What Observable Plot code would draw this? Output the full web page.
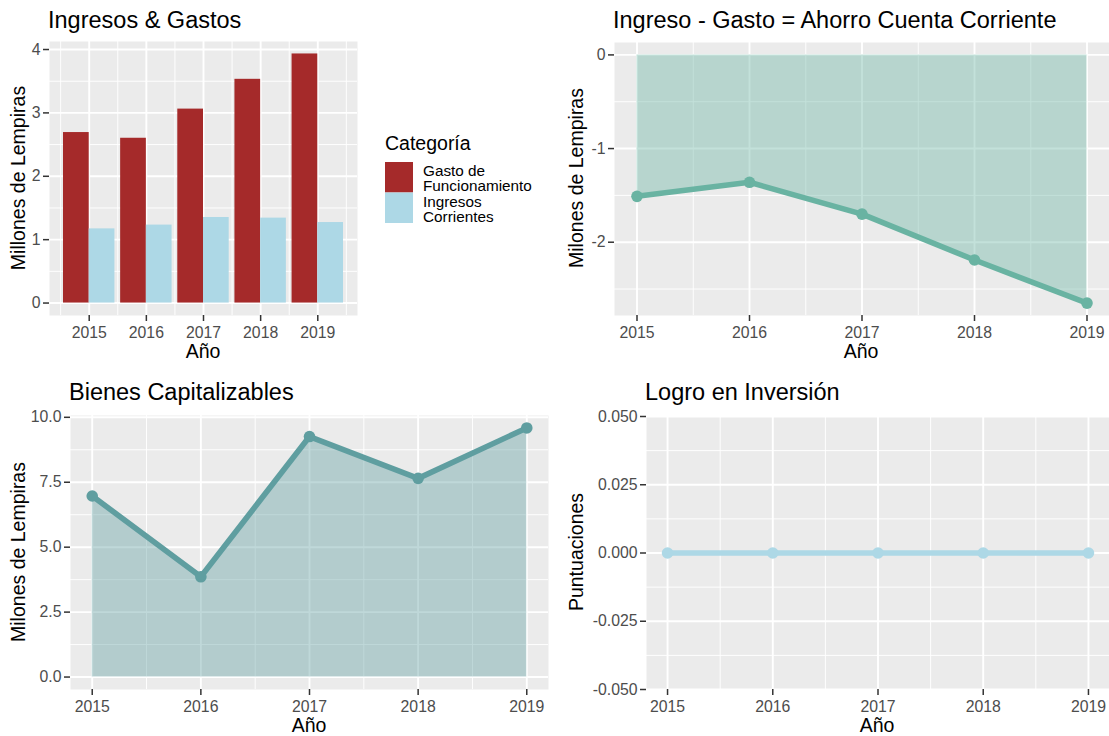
<!DOCTYPE html>
<html><head><meta charset="utf-8">
<script src="https://cdn.jsdelivr.net/npm/d3@7"></script>
<script src="https://cdn.jsdelivr.net/npm/@observablehq/plot@0.6"></script>
<style>
body{margin:0;background:#fff;}
#root{position:relative;width:1109px;height:736px;overflow:hidden;background:#fff;}
</style></head><body><div id="root"></div>
<script>
// ---- data ----
const years = [2015, 2016, 2017, 2018, 2019];
const categorias = ["Gasto de Funcionamiento", "Ingresos Corrientes"];
const coloresCategorias = ["#A52A2A", "#ADD8E6"];
const gastoFuncionamiento = [2.69, 2.60, 3.06, 3.53, 3.93];
const ingresosCorrientes = [1.17, 1.23, 1.35, 1.34, 1.27];
const ahorroCuentaCorriente = [-1.51, -1.36, -1.70, -2.19, -2.65];
const bienesCapitalizables = [6.97, 3.86, 9.26, 7.65, 9.59];
const logroInversion = [0, 0, 0, 0, 0];
const ticksIngresos = [0, 1, 2, 3, 4];
const minorIngresos = [0.5, 1.5, 2.5, 3.5];
const ticksAhorro = [-2, -1, 0];
const minorAhorro = [-2.5, -1.5, -0.5];
const ticksBienes = [0, 2.5, 5, 7.5, 10];
const minorBienes = [1.25, 3.75, 6.25, 8.75];
const ticksLogro = [-0.05, -0.025, 0, 0.025, 0.05];
const minorLogro = [-0.0375, -0.0125, 0.0125, 0.0375];
const minorYearsBars = [2014.5, 2015.5, 2016.5, 2017.5, 2018.5, 2019.5];
const minorYears = [2015.5, 2016.5, 2017.5, 2018.5];

// ---- helpers ----
const FONT = '"Liberation Sans", Arial, Helvetica, sans-serif';
const TICK = 15.8;
const root = document.getElementById("root");
function place(node, left, top) {
  node.style.position = "absolute";
  node.style.left = left + "px";
  node.style.top = top + "px";
  root.appendChild(node);
}
function expand(lo, hi, m = 0.05) { const r = hi - lo; return [lo - r * m, hi + r * m]; }

function panel({width, height, ml, mr, mt, mb, xDomain, yDomain, xMinor, yMajor, yMinor, yFormat, marks}) {
  const gridW = {stroke: "#FFFFFF", strokeOpacity: 1};
  return Plot.plot({
    width, height, marginLeft: ml, marginRight: mr, marginTop: mt, marginBottom: mb,
    x: {type: "linear", domain: xDomain},
    y: {type: "linear", domain: yDomain},
    color: {domain: categorias, range: coloresCategorias},
    style: {background: "transparent", fontFamily: FONT, fontSize: TICK + "px", color: "#4D4D4D", overflow: "visible"},
    marks: [
      Plot.frame({fill: "#EBEBEB", stroke: "none"}),
      Plot.gridX(xMinor, {...gridW, strokeWidth: 0.95}),
      Plot.gridY(yMinor, {...gridW, strokeWidth: 0.95}),
      Plot.gridX(years, {...gridW, strokeWidth: 1.9}),
      Plot.gridY(yMajor, {...gridW, strokeWidth: 1.9}),
      ...marks,
      Plot.axisX(years, {anchor: "bottom", tickSize: 6, tickPadding: 5.5, strokeWidth: 1.5, stroke: "#333333", color: "#4D4D4D", fontSize: TICK, tickFormat: d => String(d), label: null}),
      Plot.axisY(yMajor, {anchor: "left", tickSize: 6, tickPadding: 3, strokeWidth: 1.5, stroke: "#333333", color: "#4D4D4D", fontSize: TICK, tickFormat: yFormat, label: null})
    ]
  });
}

const LW = 5.6;
const R = 5.8;

// ---- panel 1: bars ----
const barWidth = 0.9;
const barras = [];
years.forEach((y, i) => {
  barras.push({year: y, categoria: categorias[0], idx: 0, valor: gastoFuncionamiento[i]});
  barras.push({year: y, categoria: categorias[1], idx: 1, valor: ingresosCorrientes[i]});
});
const p1 = panel({
  width: 370, height: 368, ml: 49, mr: 13, mt: 41, mb: 53,
  xDomain: expand(years[0] - barWidth / 2, years[years.length - 1] + barWidth / 2),
  yDomain: expand(0, d3.max(gastoFuncionamiento)),
  xMinor: minorYearsBars, yMajor: ticksIngresos, yMinor: minorIngresos, yFormat: d => String(d),
  marks: [
    Plot.rect(barras, {
      x1: d => d.year - barWidth / 2 + d.idx * barWidth / 2,
      x2: d => d.year - barWidth / 2 + (d.idx + 1) * barWidth / 2,
      y1: 0, y2: "valor", fill: "categoria"
    })
  ]
});
place(p1, 0, 0);

// ---- panel 2: ahorro ----
const ahorro = years.map((y, i) => ({year: y, v: ahorroCuentaCorriente[i]}));
const p2 = panel({
  width: 549, height: 368, ml: 54, mr: 0, mt: 42, mb: 53,
  xDomain: expand(years[0], years[years.length - 1]),
  yDomain: expand(d3.min(ahorroCuentaCorriente), 0),
  xMinor: minorYears, yMajor: ticksAhorro, yMinor: minorAhorro, yFormat: d => String(d),
  marks: [
    Plot.areaY(ahorro, {x: "year", y: "v", fill: "#69b3a2", fillOpacity: 0.4}),
    Plot.lineY(ahorro, {x: "year", y: "v", stroke: "#69b3a2", strokeWidth: LW}),
    Plot.dot(ahorro, {x: "year", y: "v", r: R, fill: "#69b3a2"})
  ]
});
place(p2, 560, 0);

// ---- panel 3: bienes ----
const bienes = years.map((y, i) => ({year: y, v: bienesCapitalizables[i]}));
const p3 = panel({
  width: 560, height: 368, ml: 70, mr: 12, mt: 47, mb: 47,
  xDomain: expand(years[0], years[years.length - 1]),
  yDomain: expand(0, d3.max(bienesCapitalizables)),
  xMinor: minorYears, yMajor: ticksBienes, yMinor: minorBienes, yFormat: d => d.toFixed(1),
  marks: [
    Plot.areaY(bienes, {x: "year", y: "v", fill: "#5F9EA0", fillOpacity: 0.4}),
    Plot.lineY(bienes, {x: "year", y: "v", stroke: "#5F9EA0", strokeWidth: LW}),
    Plot.dot(bienes, {x: "year", y: "v", r: R, fill: "#5F9EA0"})
  ]
});
place(p3, 0, 368);

// ---- panel 4: logro ----
const logro = years.map((y, i) => ({year: y, v: logroInversion[i]}));
const p4 = panel({
  width: 549, height: 368, ml: 86, mr: 0, mt: 48, mb: 47,
  xDomain: expand(years[0], years[years.length - 1]),
  yDomain: [d3.min(ticksLogro), d3.max(ticksLogro)],
  xMinor: minorYears, yMajor: ticksLogro, yMinor: minorLogro, yFormat: d => d.toFixed(3),
  marks: [
    Plot.lineY(logro, {x: "year", y: "v", stroke: "#ADD8E6", strokeWidth: LW}),
    Plot.dot(logro, {x: "year", y: "v", r: R, fill: "#ADD8E6"})
  ]
});
place(p4, 560, 368);

// ---- overlay text: titles, axis titles, legend ----
const svg = d3.create("svg").attr("width", 1109).attr("height", 736)
  .style("font-family", FONT).style("pointer-events", "none");
const titles = [
  {t: "Ingresos & Gastos", x: 48, y: 28},
  {t: "Ingreso - Gasto = Ahorro Cuenta Corriente", x: 613, y: 28},
  {t: "Bienes Capitalizables", x: 69, y: 400},
  {t: "Logro en Inversión", x: 645, y: 400}
];
titles.forEach(d => svg.append("text").attr("x", d.x).attr("y", d.y).attr("font-size", 23.5).attr("fill", "#000").text(d.t));
const xTitles = [{x: 203, y: 358}, {x: 861, y: 358}, {x: 309, y: 732}, {x: 877, y: 732}];
xTitles.forEach(d => svg.append("text").attr("x", d.x).attr("y", d.y).attr("text-anchor", "middle").attr("font-size", 19.5).attr("fill", "#000").text("Año"));
const yTitles = [
  {t: "Millones de Lempiras", x: 25, y: 178},
  {t: "Milones de Lempiras", x: 583, y: 178},
  {t: "Milones de Lempiras", x: 25, y: 552},
  {t: "Puntuaciones", x: 583, y: 552}
];
yTitles.forEach(d => svg.append("text").attr("transform", `translate(${d.x},${d.y}) rotate(-90)`).attr("text-anchor", "middle").attr("font-size", 19.5).attr("fill", "#000").text(d.t));
// legend
svg.append("text").attr("x", 385).attr("y", 150).attr("font-size", 19.5).attr("fill", "#000").text("Categoría");
categorias.forEach((c, i) => {
  const top = 162 + i * 30.5;
  svg.append("rect").attr("x", 385).attr("y", top).attr("width", 28).attr("height", 30.5).attr("fill", coloresCategorias[i]);
  const words = c.split(" ");
  const lines = i === 0 ? [words.slice(0, 2).join(" "), words.slice(2).join(" ")] : [words[0], words.slice(1).join(" ")];
  lines.forEach((l, j) => svg.append("text").attr("x", 423).attr("y", top + 14 + j * 15).attr("font-size", 15.3).attr("fill", "#000").text(l));
});
place(svg.node(), 0, 0);
</script>
</body></html>
